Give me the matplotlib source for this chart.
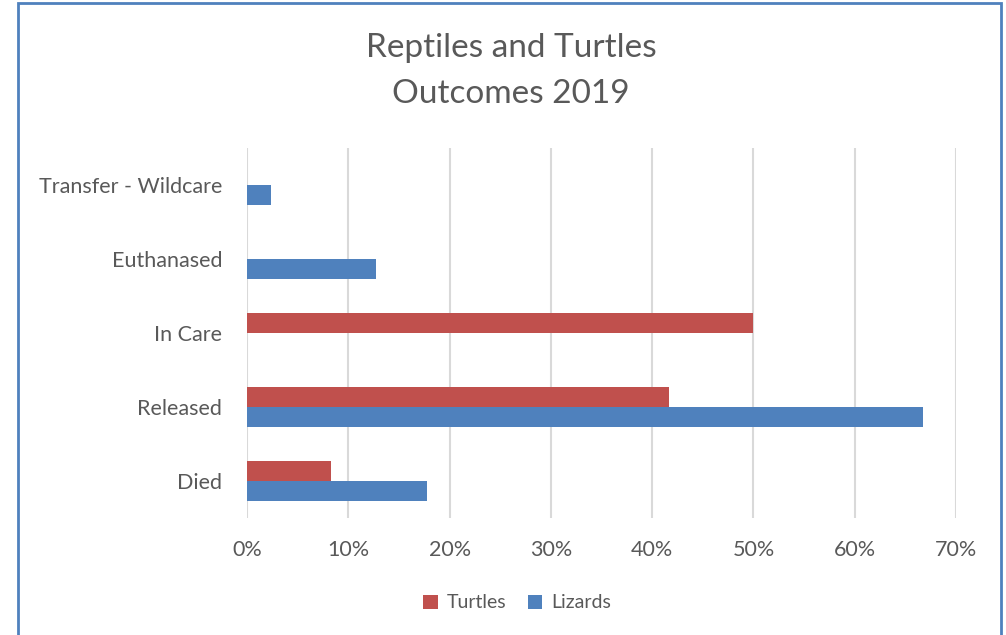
import matplotlib
matplotlib.use("Agg")
import matplotlib.pyplot as plt
from matplotlib.patches import Rectangle
from matplotlib.ticker import FuncFormatter
import numpy as np

categories = ["Died", "Released", "In Care", "Euthanased", "Transfer - Wildcare"]
turtles = [8.3, 41.7, 50.0, 0.0, 0.0]
lizards = [17.8, 66.7, 0.0, 12.7, 2.4]
xticks = [0, 10, 20, 30, 40, 50, 60, 70]

RED = "#C0504D"
BLUE = "#4F81BD"
TXT = "#595959"
FONT = ["Lato", "DejaVu Sans"]

plt.rcParams["font.family"] = FONT

fig = plt.figure(figsize=(10.06, 6.35), dpi=100)
fig.patch.set_facecolor("white")
W, H = 1006, 635
ax = fig.add_axes([247 / W, 1 - 518 / H, (956 - 247) / W, (518 - 148) / H])

y = np.arange(len(categories))
h = 0.27
ax.barh(y + h / 2, turtles, height=h, color=RED, label="Turtles", zorder=3)
ax.barh(y - h / 2, lizards, height=h, color=BLUE, label="Lizards", zorder=3)

ax.set_xlim(0, 70)
ax.set_ylim(-0.5, len(categories) - 0.5)
ax.set_xticks(xticks)
ax.xaxis.set_major_formatter(FuncFormatter(lambda v, p: f"{v:.0f}%"))
ax.set_yticks(y)
ax.set_yticklabels(categories)
ax.grid(axis="x", color="#D9D9D9", linewidth=1.5, zorder=0)
for s in ax.spines.values():
    s.set_visible(False)
ax.tick_params(axis="both", length=0, labelsize=15.5, colors=TXT)
ax.tick_params(axis="x", pad=16)
ax.tick_params(axis="y", pad=18)

fig.text(511 / W, 1 - 48 / H, "Reptiles and Turtles", ha="center", va="center",
         fontsize=24, color=TXT)
fig.text(511 / W, 1 - 94 / H, "Outcomes 2019", ha="center", va="center",
         fontsize=24, color=TXT)

leg = fig.legend(loc="center", bbox_to_anchor=(517 / W, 1 - 603 / H), ncol=2,
                 frameon=False, fontsize=14, handlelength=0.75, handleheight=0.75,
                 handletextpad=0.45, columnspacing=1.1)
for t in leg.get_texts():
    t.set_color(TXT)

fig.add_artist(Rectangle((18 / W, -0.05), (1001 - 18) / W, (1 - 3 / H) + 0.05,
                         transform=fig.transFigure, fill=False,
                         edgecolor="#4F81BD", linewidth=2))

fig.savefig("out.png", dpi=100, facecolor="white")
